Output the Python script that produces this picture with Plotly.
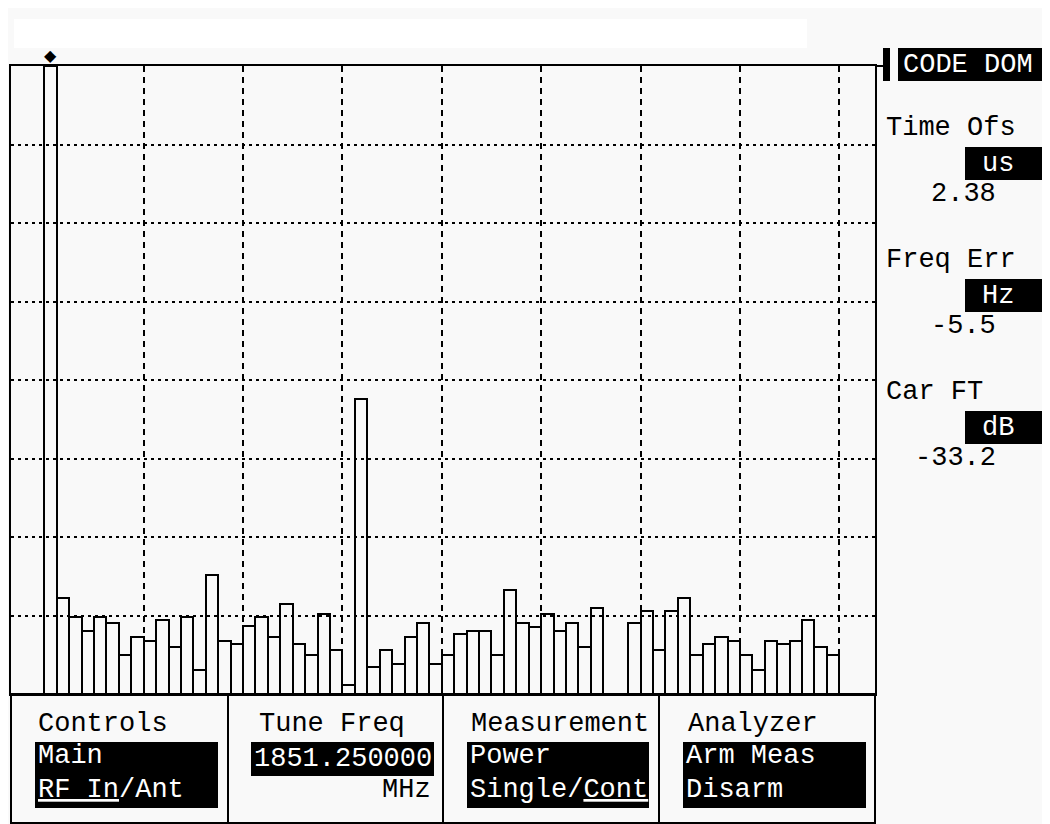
import plotly.graph_objects as go

# ---------------- data ----------------
codes = list(range(64))
power_db = [
    0.0, -33.9, -35.1, -36.0, -35.1, -35.5, -37.5, -36.4,
    -36.6, -35.3, -37.0, -35.1, -38.5, -32.4, -36.6, -36.8,
    -35.7, -35.1, -36.4, -34.25, -36.8, -37.5, -34.9, -37.2,
    -39.4, -21.2, -38.3, -37.2, -38.1, -36.4, -35.5, -38.1,
    -37.5, -36.2, -36.0, -36.0, -37.5, -33.4, -35.5, -35.75,
    -34.9, -36.0, -35.5, -37.0, -34.5, -40.0, -40.0, -35.5,
    -34.7, -37.2, -34.7, -33.9, -37.5, -36.8, -36.4, -36.6,
    -37.5, -38.5, -36.6, -36.8, -36.6, -35.3, -37.0, -37.5,
]
marker_code = 0
y_floor, y_top = -40, 0
y_grid = [-35, -30, -25, -20, -15, -10, -5]
x_grid = [7.5, 15.5, 23.5, 31.5, 39.5, 47.5, 55.5, 63.5]

side_labels = ["Time Ofs", "Freq Err", "Car FT"]
side_units = ["us", "Hz", "dB"]
side_values = ["2.38", "-5.5", "-33.2"]

menu_titles = ["Controls", "Tune Freq", "Measurement", "Analyzer"]
menu_line1 = ["Main", "1851.250000", "Power", "Arm Meas"]
menu_line2 = ["<u>RF In</u>/Ant", "MHz", "Single/<u>Cont</u>", "Disarm"]

# ---------------- geometry (pixels, screen coordinates) ----------------
OFF = 8                      # page body margin of the browser
W, H = 1050 - OFF, 824 - OFF
L, R, T, B = 11, 875, 66, 694
FONT = "Liberation Mono"
FS = 27
BG = "#f9f9f9"


def px(x):
    return (x - L) / (R - L)


def py(y):
    return (B - y) / (B - T)


fig = go.Figure()
fig.add_trace(go.Bar(
    x=codes,
    y=[p - y_floor for p in power_db],
    base=y_floor,
    width=1,
    marker=dict(color="rgba(0,0,0,0)", line=dict(color="black", width=2)),
    hoverinfo="skip",
))

shapes = []
ann = []

# marker on the peak code
ann.append(dict(x=marker_code, y=power_db[marker_code], xref="x", yref="y",
                text="◆", showarrow=True, arrowhead=0, arrowwidth=2,
                arrowcolor="black", ax=0, ay=-11,
                font=dict(family="DejaVu Sans", size=16, color="black")))

# top white strip
shapes.append(dict(type="rect", xref="paper", yref="paper", x0=px(14), x1=px(807),
                   y0=py(48), y1=py(19), fillcolor="white", line=dict(width=0),
                   layer="below"))

# CODE DOM header
shapes.append(dict(type="line", xref="paper", yref="paper", x0=px(875), x1=px(884),
                   y0=py(66), y1=py(66), line=dict(color="black", width=2)))
shapes.append(dict(type="rect", xref="paper", yref="paper", x0=px(883), x1=px(890),
                   y0=py(81), y1=py(48), fillcolor="black", line=dict(width=0)))
shapes.append(dict(type="rect", xref="paper", yref="paper", x0=px(898), x1=px(1048),
                   y0=py(81), y1=py(48), fillcolor="black", line=dict(width=0)))
ann.append(dict(x=px(901), y=py(64.5), xref="paper", yref="paper", text="CODE DOM",
                showarrow=False, xanchor="left", yanchor="middle",
                font=dict(family=FONT, size=FS, color="white")))

# right side readouts
label_y = [128, 260, 392]
for i in range(3):
    ly = label_y[i]
    ann.append(dict(x=px(884), y=py(ly), xref="paper", yref="paper", text=side_labels[i],
                    showarrow=False, xanchor="left", yanchor="middle",
                    font=dict(family=FONT, size=FS, color="black")))
    shapes.append(dict(type="rect", xref="paper", yref="paper", x0=px(965), x1=px(1048),
                       y0=py(ly + 52), y1=py(ly + 19), fillcolor="black", line=dict(width=0)))
    ann.append(dict(x=px(1016), y=py(ly + 35.5), xref="paper", yref="paper", text=side_units[i],
                    showarrow=False, xanchor="right", yanchor="middle",
                    font=dict(family=FONT, size=FS, color="white")))
    ann.append(dict(x=px(998), y=py(ly + 66), xref="paper", yref="paper", text=side_values[i],
                    showarrow=False, xanchor="right", yanchor="middle",
                    font=dict(family=FONT, size=FS, color="black")))

# bottom menu panel
PB = 823
shapes.append(dict(type="rect", xref="paper", yref="paper", x0=px(L), x1=px(R),
                   y0=py(PB), y1=py(B), line=dict(color="black", width=2)))
for dx in [228, 443, 659]:
    shapes.append(dict(type="line", xref="paper", yref="paper", x0=px(dx), x1=px(dx),
                       y0=py(PB), y1=py(B), line=dict(color="black", width=2)))

col_x = [36, 257, 469, 686]
box_x = [(35, 218), (251, 434), (467, 649), (683, 866)]
for i in range(4):
    ann.append(dict(x=px(col_x[i]), y=py(724), xref="paper", yref="paper", text=menu_titles[i],
                    showarrow=False, xanchor="left", yanchor="middle",
                    font=dict(family=FONT, size=FS, color="black")))
    bx0, bx1 = box_x[i]
    if i == 1:
        shapes.append(dict(type="rect", xref="paper", yref="paper", x0=px(bx0), x1=px(bx1),
                           y0=py(776), y1=py(742), fillcolor="black", line=dict(width=0)))
        ann.append(dict(x=px(252), y=py(759), xref="paper", yref="paper", text=menu_line1[i],
                        showarrow=False, xanchor="left", yanchor="middle",
                        font=dict(family=FONT, size=FS, color="white")))
        ann.append(dict(x=px(433), y=py(790), xref="paper", yref="paper", text=menu_line2[i],
                        showarrow=False, xanchor="right", yanchor="middle",
                        font=dict(family=FONT, size=FS, color="black")))
    else:
        shapes.append(dict(type="rect", xref="paper", yref="paper", x0=px(bx0), x1=px(bx1),
                           y0=py(808), y1=py(742), fillcolor="black", line=dict(width=0)))
        ann.append(dict(x=px(bx0 + 1), y=py(756), xref="paper", yref="paper", text=menu_line1[i],
                        showarrow=False, xanchor="left", yanchor="middle",
                        font=dict(family=FONT, size=FS, color="white")))
        ann.append(dict(x=px(bx0 + 1), y=py(790), xref="paper", yref="paper", text=menu_line2[i],
                        showarrow=False, xanchor="left", yanchor="middle",
                        font=dict(family=FONT, size=FS, color="white")))

x_lo = -0.5 - (44.3 - L) / 12.42
x_hi = 63.5 + (R - 839.3) / 12.42

fig.update_layout(
    width=W, height=H,
    margin=dict(l=L - OFF, r=W - (R - OFF), t=T - OFF, b=H - (B - OFF), pad=0),
    paper_bgcolor=BG, plot_bgcolor=BG,
    showlegend=False, bargap=0,
    shapes=shapes, annotations=ann,
    font=dict(family=FONT, size=FS, color="black"),
)
fig.update_xaxes(range=[x_lo, x_hi], tickvals=x_grid, showticklabels=False, ticks="",
                 showgrid=True, gridcolor="black", gridwidth=2, griddash="6px,5px",
                 showline=True, mirror=True, linecolor="black", linewidth=2, zeroline=False)
fig.update_yaxes(range=[y_floor, y_top], tickvals=y_grid, showticklabels=False, ticks="",
                 showgrid=True, gridcolor="black", gridwidth=2, griddash="3px,4px",
                 showline=True, mirror=True, linecolor="black", linewidth=2, zeroline=False)

fig.write_html("out.html")
